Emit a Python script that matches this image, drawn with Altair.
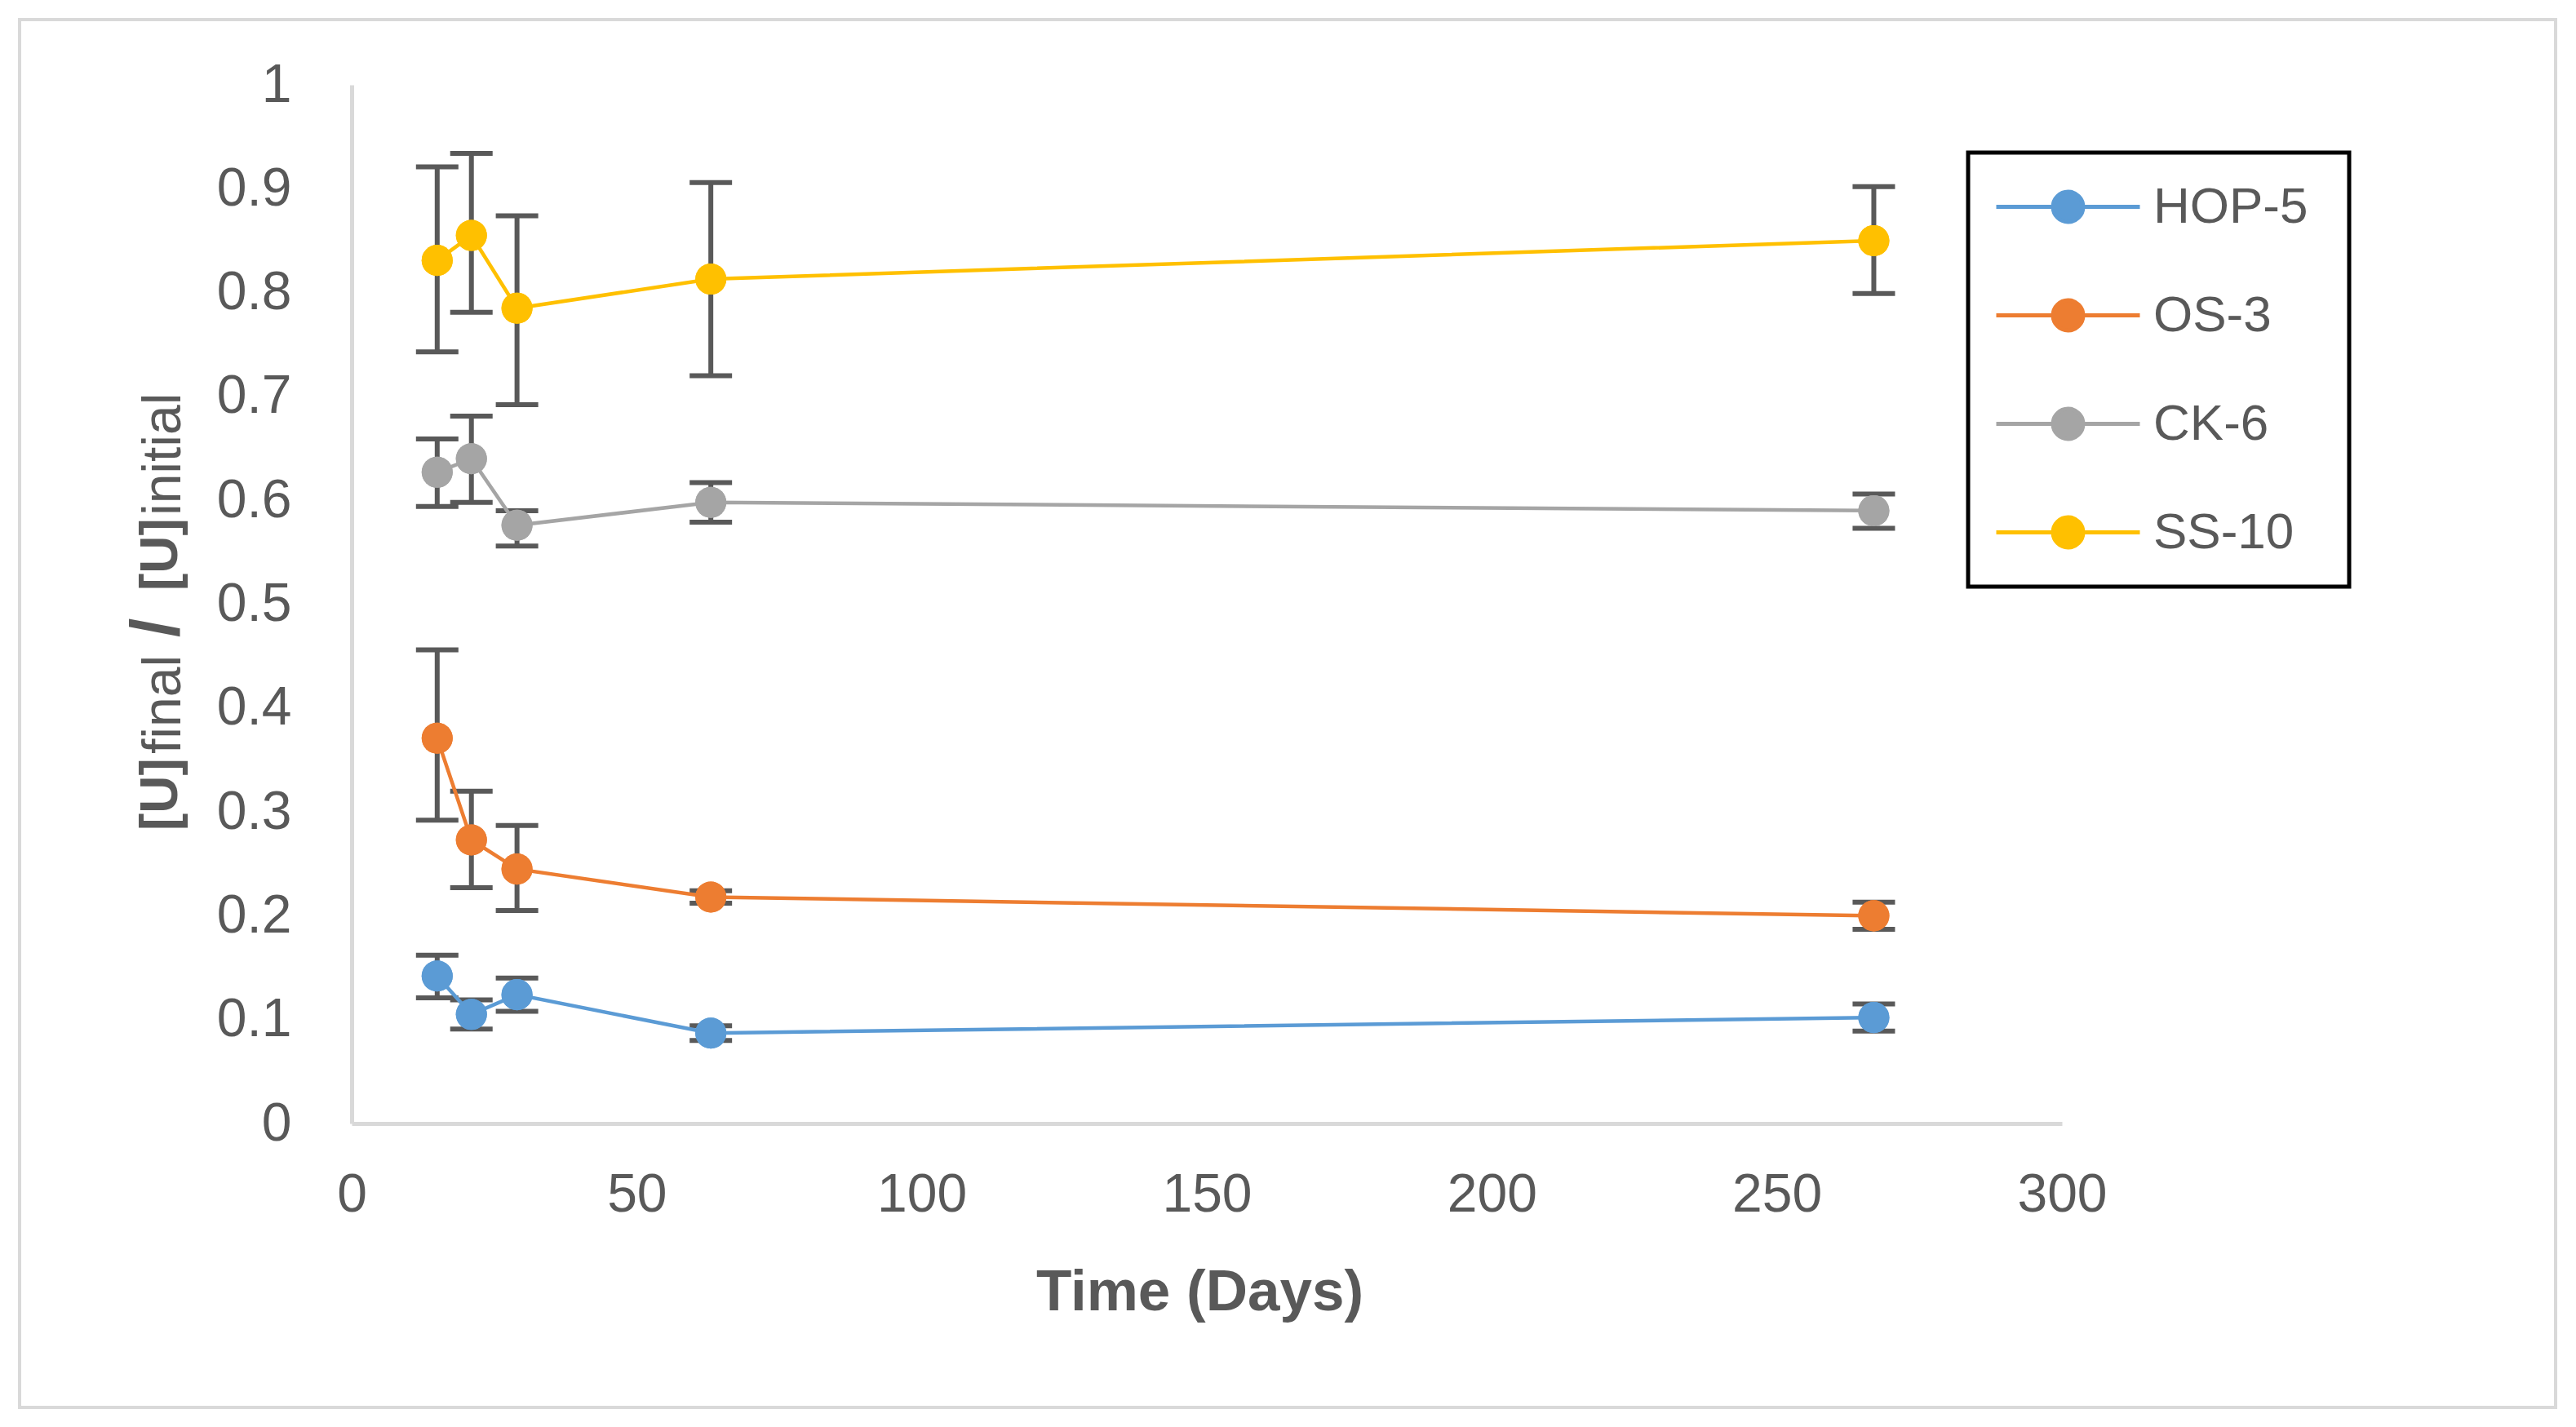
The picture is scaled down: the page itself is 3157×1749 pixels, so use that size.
import altair as alt
import pandas as pd

# ---------------- data ----------------
series = ["HOP-5", "OS-3", "CK-6", "SS-10"]
colors = ["#5B9BD5", "#ED7D31", "#A5A5A5", "#FFC000"]
days = [15, 21, 29, 63, 267]

hop5_mean = [0.142, 0.105, 0.124, 0.087, 0.102]
hop5_lo = [0.121, 0.091, 0.108, 0.080, 0.089]
hop5_hi = [0.162, 0.119, 0.140, 0.094, 0.115]

os3_mean = [0.371, 0.273, 0.245, 0.218, 0.200]
os3_lo = [0.292, 0.227, 0.205, 0.212, 0.187]
os3_hi = [0.456, 0.320, 0.287, 0.224, 0.213]

ck6_mean = [0.627, 0.640, 0.576, 0.598, 0.590]
ck6_lo = [0.594, 0.598, 0.556, 0.579, 0.573]
ck6_hi = [0.659, 0.681, 0.590, 0.617, 0.606]

ss10_mean = [0.831, 0.855, 0.785, 0.813, 0.850]
ss10_lo = [0.743, 0.781, 0.692, 0.720, 0.799]
ss10_hi = [0.921, 0.934, 0.874, 0.906, 0.902]

x_ticks = [0, 50, 100, 150, 200, 250, 300]
y_ticks = [0, 0.1, 0.2, 0.3, 0.4, 0.5, 0.6, 0.7, 0.8, 0.9, 1]

means = [hop5_mean, os3_mean, ck6_mean, ss10_mean]
los = [hop5_lo, os3_lo, ck6_lo, ss10_lo]
his = [hop5_hi, os3_hi, ck6_hi, ss10_hi]

rows = []
for name, m, lo, hi in zip(series, means, los, his):
    for d, a, b, c in zip(days, m, lo, hi):
        rows.append({"series": name, "day": d, "mean": a, "lo": b, "hi": c})
df = pd.DataFrame(rows)
one = pd.DataFrame({"k": [0]})

# ---------------- styling ----------------
FONT = "Liberation Sans"
TXT = "#595959"
AX = "#D9D9D9"
W, H = 2096, 1273

x_axis = alt.Axis(values=x_ticks, grid=False, ticks=False, tickSize=0,
                  domainColor=AX, domainWidth=5, labelFlush=False,
                  labelFont=FONT, labelFontSize=66, labelColor=TXT, labelPadding=55,
                  title="Time (Days)", titleFont=FONT, titleFontSize=71,
                  titleFontWeight="bold", titleColor=TXT,
                  titleX=1039, titleY=228, titleBaseline="alphabetic", titleAlign="center")
y_axis = alt.Axis(values=y_ticks, grid=False, ticks=False, tickSize=0,
                  domainColor=AX, domainWidth=5, format=".1~f", labelFlush=False,
                  labelFont=FONT, labelFontSize=66, labelColor=TXT, labelPadding=74,
                  title=None)
xs = alt.Scale(domain=[0, 300], nice=False)
ys = alt.Scale(domain=[0, 1], nice=False)
cscale = alt.Scale(domain=series, range=colors)

X = alt.X("day:Q", scale=xs, axis=x_axis)

sym_path = ("M-1,0L1,0M-0.21,0A0.21,0.21,0,1,0,0.21,0"
            "A0.21,0.21,0,1,0,-0.21,0Z")
legend = alt.Legend(orient="none", legendX=1981, legendY=83, title=None,
                    symbolType=sym_path, symbolSize=30976, symbolStrokeWidth=5,
                    symbolStrokeColor={"expr": "scale('color', datum.value)"},
                    symbolOpacity=1,
                    labelFont=FONT, labelFontSize=62, labelColor=TXT,
                    labelOffset=14, labelLimit=500,
                    clipHeight=69, rowPadding=64, padding=32)

base = alt.Chart(df)

frame = alt.Chart(one).mark_rect(fillOpacity=0, stroke=AX, strokeWidth=4).encode(
    x=alt.value(-407), x2=alt.value(2701), y=alt.value(-80), y2=alt.value(1621))
legend_box = alt.Chart(one).mark_rect(fillOpacity=0, stroke="black", strokeWidth=5).encode(
    x=alt.value(1981), x2=alt.value(2448), y=alt.value(83), y2=alt.value(615))

err = base.mark_rule(color="#595959", strokeWidth=6).encode(
    x=X, y=alt.Y("lo:Q", scale=ys, axis=y_axis), y2="hi:Q")
cap_hi = base.mark_tick(orient="horizontal", size=52, thickness=6, color="#595959",
                        opacity=1).encode(x=X, y=alt.Y("hi:Q", scale=ys, axis=y_axis))
cap_lo = base.mark_tick(orient="horizontal", size=52, thickness=6, color="#595959",
                        opacity=1).encode(x=X, y=alt.Y("lo:Q", scale=ys, axis=y_axis))

pts_legend = base.mark_circle(size=1450, opacity=1).encode(
    x=X, y=alt.Y("mean:Q", scale=ys, axis=y_axis),
    color=alt.Color("series:N", scale=cscale, legend=legend))
lines = base.mark_line(strokeWidth=4.5).encode(
    x=X, y=alt.Y("mean:Q", scale=ys, axis=y_axis),
    color=alt.Color("series:N", scale=cscale, legend=None))
pts = base.mark_circle(size=1450, opacity=1).encode(
    x=X, y=alt.Y("mean:Q", scale=ys, axis=y_axis),
    color=alt.Color("series:N", scale=cscale, legend=None))


def ytitle(txt, y, x, size, weight):
    return alt.Chart(one).mark_text(text=txt, angle=270, align="left",
                                    baseline="alphabetic", font=FONT, fontSize=size,
                                    fontWeight=weight, color=TXT).encode(
        x=alt.value(x), y=alt.value(y))


t1 = ytitle("[U]", 914, -214, 64, "bold")
t2 = ytitle("final", 820, -210, 66, "normal")
t3 = ytitle("/", 677, -212, 84, "bold")
t4 = ytitle("[U]", 620, -214, 64, "bold")
t5 = ytitle("initial", 528, -210, 66, "normal")

chart = alt.layer(frame, legend_box, err, cap_hi, cap_lo, pts_legend, lines, pts,
                  t1, t2, t3, t4, t5).properties(
    width=W, height=H,
    autosize=alt.AutoSizeParams(type="none"),
    padding={"left": 423, "top": 96, "right": 618, "bottom": 360},
    background="white",
).configure_view(stroke=None)

chart.save("out.html", embed_options={"renderer": "svg", "actions": False})
